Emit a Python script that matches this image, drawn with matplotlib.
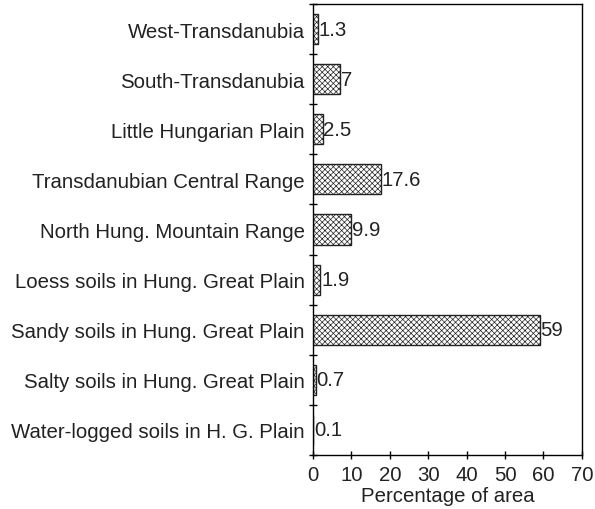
import matplotlib.pyplot as plt
import numpy as np

plt.rcParams['font.family'] = ['Liberation Sans', 'DejaVu Sans']
plt.rcParams['hatch.linewidth'] = 0.5

regions = [
    "West-Transdanubia",
    "South-Transdanubia",
    "Little Hungarian Plain",
    "Transdanubian Central Range",
    "North Hung. Mountain Range",
    "Loess soils in Hung. Great Plain",
    "Sandy soils in Hung. Great Plain",
    "Salty soils in Hung. Great Plain",
    "Water-logged soils in H. G. Plain",
]
values = [1.3, 7, 2.5, 17.6, 9.9, 1.9, 59, 0.7, 0.1]
value_labels = ["1.3", "7", "2.5", "17.6", "9.9", "1.9", "59", "0.7", "0.1"]

fs = 14.7

fig = plt.figure(figsize=(5.95, 5.10), dpi=100)
ax = fig.add_axes([0.526, 0.106, 0.452, 0.884])

y = np.arange(len(regions))
ax.barh(y, values, height=0.6, color="white", edgecolor="#222222",
        linewidth=1.0, hatch="xxxxxx")

for yi, v, lab in zip(y, values, value_labels):
    ax.text(v + 0.2, yi, lab, va="center", ha="left", fontsize=fs, color="#222222")

ax.set_xlim(0, 70)
ax.set_ylim(len(regions) - 0.5, -0.5)
ax.set_xticks(range(0, 71, 10))
ax.set_yticks(y)
ax.set_yticklabels(regions, fontsize=fs, color="#222222")
ax.tick_params(axis="y", length=0, pad=6)
ax.set_yticks(np.arange(-0.5, len(regions), 1), minor=True)
ax.tick_params(axis="y", which="minor", length=6, direction="inout", width=1)
ax.tick_params(axis="x", length=6, direction="inout", width=1, labelsize=fs,
               pad=4, labelcolor="#222222")
ax.set_xlabel("Percentage of area", fontsize=fs, labelpad=2, color="#222222")

for s in ax.spines.values():
    s.set_linewidth(1.0)

fig.savefig("out.png", dpi=100)
